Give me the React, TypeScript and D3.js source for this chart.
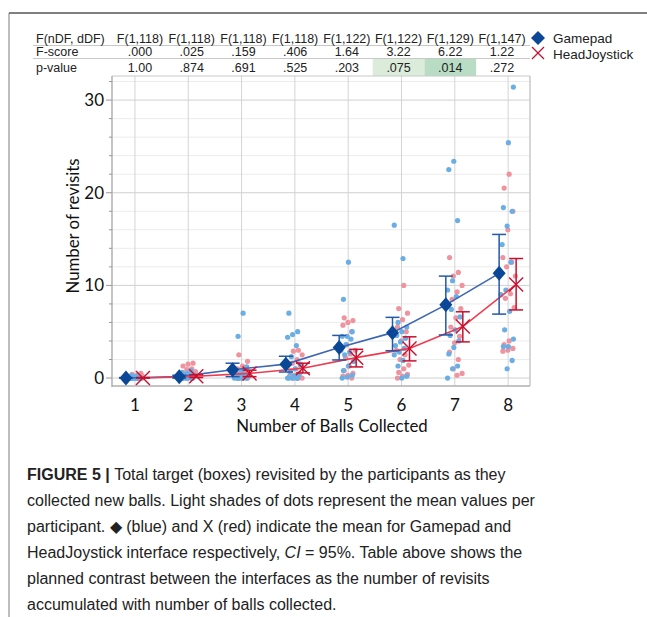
import React from "react";
import * as d3 from "d3";

const categories = [1, 2, 3, 4, 5, 6, 7, 8];
const dfLabels = ["F(1,118)", "F(1,118)", "F(1,118)", "F(1,118)", "F(1,122)", "F(1,122)", "F(1,129)", "F(1,147)"];
const fScores = [".000", ".025", ".159", ".406", "1.64", "3.22", "6.22", "1.22"];
const pValues = ["1.00", ".874", ".691", ".525", ".203", ".075", ".014", ".272"];
const yTicks = [0, 10, 20, 30];

const gamepadMean = [0.0, 0.15, 0.9, 1.5, 3.3, 4.9, 7.9, 11.3];
const gamepadLow = [0.0, 0.0, 0.15, 0.65, 1.95, 2.95, 4.65, 6.9];
const gamepadHigh = [0.05, 0.3, 1.6, 2.35, 4.6, 6.55, 11.0, 15.5];

const headMean = [0.0, 0.2, 0.5, 1.05, 2.2, 3.2, 5.55, 10.1];
const headLow = [0.0, 0.05, 0.15, 0.55, 1.2, 1.85, 3.9, 7.35];
const headHigh = [0.05, 0.35, 0.85, 1.6, 3.1, 4.45, 7.15, 12.9];

const gamepadDots = [
  [0, 0, 0, 0, 0, 0, 0, 0, 0, 0, 0, 0, 0.1, 0.1, 0.2, 0.3],
  [0, 0, 0, 0, 0, 0, 0.1, 0.1, 0.2, 0.2, 0.3, 0.3, 0.4, 0.5, 0.6, 0.8],
  [7.0, 4.5, 1.2, 0.8, 0.5, 0.4, 0.3, 0.2, 0.1, 0, 0, 0, 0, 0, 0, 0],
  [7.0, 5.0, 4.7, 4.4, 3.5, 2.3, 1.5, 1.0, 0.6, 0.3, 0.2, 0, 0, 0, 0, 0],
  [12.5, 8.5, 5.0, 4.5, 4.5, 4.2, 3.6, 3.0, 2.8, 2.5, 1.8, 1.3, 0.8, 0.3, 0.1, 0],
  [16.5, 12.9, 6.0, 5.5, 5.0, 4.6, 4.3, 3.9, 3.5, 3.2, 2.8, 2.5, 1.9, 1.3, 0.2, 0],
  [23.4, 22.5, 17.0, 10.5, 9.5, 8.8, 7.4, 6.6, 5.2, 4.6, 4.0, 3.3, 2.6, 1.3, 1.0, 0],
  [31.4, 25.4, 18.4, 18.0, 16.4, 14.4, 12.5, 9.5, 9.0, 7.2, 5.2, 4.2, 3.4, 3.4, 1.9, 1.0],
];

const headDots = [
  [0, 0, 0, 0, 0, 0, 0, 0, 0, 0, 0.1, 0.1, 0.2, 0.3, 0.4, 0.5],
  [1.6, 1.5, 1.3, 1.0, 0.9, 0.7, 0.5, 0.4, 0.3, 0.2, 0.1, 0, 0, 0, 0, 0],
  [2.5, 1.8, 1.3, 1.0, 0.8, 0.6, 0.5, 0.4, 0.3, 0.2, 0.1, 0, 0, 0, 0, 0],
  [3.0, 2.9, 2.5, 2.0, 1.6, 1.3, 1.0, 0.8, 0.5, 0.3, 0.2, 0, 0, 0, 0, 0],
  [6.5, 6.2, 6.0, 5.7, 5.0, 3.6, 3.0, 2.6, 2.2, 1.8, 1.3, 0.8, 0.5, 0.3, 0.2, 0],
  [10.0, 7.5, 7.0, 6.3, 5.5, 5.0, 4.0, 3.0, 2.5, 2.0, 1.4, 1.0, 0.6, 0.4, 0.2, 0],
  [13.0, 11.4, 11.0, 10.0, 9.3, 8.5, 7.5, 6.5, 5.5, 4.5, 3.8, 2.8, 2.0, 1.0, 0.5, 0.3],
  [22.0, 20.5, 18.0, 16.0, 13.0, 12.5, 12.0, 11.0, 9.1, 8.6, 7.6, 4.0, 3.6, 3.2, 3.0, 2.9],
];

const captionLines = [
  "Total target (boxes) revisited by the participants as they",
  "collected new balls. Light shades of dots represent the mean values per",
  "participant. \u25C6 (blue) and X (red) indicate the mean for Gamepad and",
  "HeadJoystick interface respectively, ",
  "planned contrast between the interfaces as the number of revisits",
  "accumulated with number of balls collected.",
];

const W = 647;
const H = 617;
const plotL = 112, plotR = 530, plotT = 76, plotB = 386;

const x = d3.scaleLinear().domain([0.57, 8.41]).range([plotL, plotR]);
const y = d3.scaleLinear().domain([-0.86, 32.6]).range([plotB, plotT]);
const col = d3.scaleLinear().domain([1, 8]).range([140, 502]);

const BLUE_DOT = "#6aaee3";
const PINK_DOT = "#ef939e";
const BLUE = "#0b4797";
const BLUE_LINE = "#3d66b5";
const RED = "#c8102e";
const RED_LINE = "#ec3c50";

function jit(i: number, c: number, s: number) {
  return (((i * 7 + c * 5 + s) % 11) - 5) * 1.25;
}

export default function App() {
  const gLine = d3.line<number>().x((_, i) => x(categories[i]) - 9).y((d) => y(d));
  const hLine = d3.line<number>().x((_, i) => x(categories[i]) + 8).y((d) => y(d));
  const minorTicks = d3.range(0, 33, 2).filter((v) => v % 10 !== 0);
  const colW = col(2) - col(1);
  const tableFont = "'Liberation Sans', Arial, sans-serif";
  const axisFont = "Lato, 'Open Sans', sans-serif";
  return (
    <svg width={W} height={H} style={{ position: "absolute", left: 0, top: 0, background: "#fff" }}>
      {/* frame */}
      <line x1={9} x2={9} y1={13} y2={H} stroke="#bdbdbd" strokeWidth={2} />
      <line x1={9} x2={W} y1={13} y2={13} stroke="#555" strokeWidth={1.5} />

      {/* table */}
      {pValues.map((p, i) => {
        const v = parseFloat(p);
        if (v >= 0.1) return null;
        return (
          <rect key={"h" + i} x={col(categories[i]) - colW / 2} y={58} width={colW} height={18}
            fill={v < 0.05 ? "#b9dcc5" : "#dcecdb"} />
        );
      })}
      <line x1={33} x2={plotR} y1={45.5} y2={45.5} stroke="#c8c8c8" />
      <line x1={33} x2={plotR} y1={58.5} y2={58.5} stroke="#c8c8c8" />
      <g fontFamily={tableFont} fontSize={12.5} fill="#222">
        <text x={36} y={43}>F(nDF, dDF)</text>
        <text x={36} y={56}>F-score</text>
        <text x={36} y={72}>p-value</text>
        {categories.map((c, i) => (
          <g key={"t" + c}>
            <text x={col(c)} y={43} textAnchor="middle">{dfLabels[i]}</text>
            <text x={col(c)} y={56} textAnchor="middle">{fScores[i]}</text>
            <text x={col(c)} y={72} textAnchor="middle">{pValues[i]}</text>
          </g>
        ))}
      </g>

      {/* legend */}
      <path d="M538,31 L545,38 L538,45 L531,38 Z" fill={BLUE} />
      <text x={553} y={42.5} fontFamily={tableFont} fontSize={13.5} fill="#222">Gamepad</text>
      <g stroke={RED} strokeWidth={1.3}>
        <line x1={532} x2={544} y1={47} y2={59} />
        <line x1={532} x2={544} y1={59} y2={47} />
      </g>
      <text x={553} y={58.5} fontFamily={tableFont} fontSize={13.5} fill="#222">HeadJoystick</text>

      {/* grid */}
      {minorTicks.map((t) => (
        <line key={"mg" + t} x1={plotL} x2={plotR} y1={y(t)} y2={y(t)} stroke="#ececec" strokeWidth={1} />
      ))}
      {yTicks.map((t) => (
        <line key={"g" + t} x1={plotL} x2={plotR} y1={y(t)} y2={y(t)} stroke="#d0d0d0" strokeWidth={1} />
      ))}
      {categories.map((c) => (
        <line key={"vg" + c} x1={x(c)} x2={x(c)} y1={plotT} y2={plotB} stroke="#d4d4d4" strokeWidth={1} />
      ))}
      <line x1={plotL} x2={plotR} y1={plotT} y2={plotT} stroke="#c8c8c8" />
      <line x1={plotR} x2={plotR} y1={plotT} y2={plotB} stroke="#c8c8c8" strokeWidth={1.5} />
      <line x1={plotL} x2={plotL} y1={plotT} y2={plotB + 1} stroke="#b0b0b0" strokeWidth={1.5} />
      <line x1={plotL} x2={plotR} y1={plotB} y2={plotB} stroke="#b0b0b0" strokeWidth={1.5} />

      {/* y ticks */}
      {minorTicks.map((t) => (
        <line key={"mt" + t} x1={plotL - 3} x2={plotL} y1={y(t)} y2={y(t)} stroke="#999" />
      ))}
      {yTicks.map((t) => (
        <g key={"yt" + t}>
          <line x1={plotL - 6} x2={plotL} y1={y(t)} y2={y(t)} stroke="#999" />
          <text x={plotL - 8} y={y(t)} dy="0.35em" textAnchor="end" fontFamily={axisFont} fontSize={17} fill="#111">{t}</text>
        </g>
      ))}
      {categories.map((c) => (
        <text key={"xt" + c} x={x(c)} y={411} textAnchor="middle" fontFamily={axisFont} fontSize={17} fill="#111">{c}</text>
      ))}
      <text x={332} y={432} textAnchor="middle" fontFamily={axisFont} fontSize={16.8} fill="#111">Number of Balls Collected</text>
      <text transform={`translate(79,226) rotate(-90)`} textAnchor="middle" fontFamily={axisFont} fontSize={16.8} fill="#111">Number of revisits</text>

      {/* dots */}
      {headDots.map((arr, ci) => arr.map((v, i) => (
        <circle key={`hd${ci}-${i}`} cx={x(categories[ci]) + 1 + jit(i, ci, 3)} cy={y(v)} r={2.6} fill={PINK_DOT} />
      )))}
      {gamepadDots.map((arr, ci) => arr.map((v, i) => (
        <circle key={`gd${ci}-${i}`} cx={x(categories[ci]) - 1 + jit(i, ci, 8)} cy={y(v)} r={2.6} fill={BLUE_DOT} />
      )))}

      {/* lines */}
      <path d={gLine(gamepadMean) || ""} fill="none" stroke={BLUE_LINE} strokeWidth={1.6} />
      <path d={hLine(headMean) || ""} fill="none" stroke={RED_LINE} strokeWidth={1.6} />

      {/* error bars */}
      {categories.map((c, i) => {
        const gx = x(c) - 9, hx = x(c) + 8;
        return (
          <g key={"eb" + c} strokeWidth={1.5}>
            <g stroke="#2558a8">
              <line x1={gx} x2={gx} y1={y(gamepadLow[i])} y2={y(gamepadHigh[i])} />
              <line x1={gx - 7} x2={gx + 7} y1={y(gamepadLow[i])} y2={y(gamepadLow[i])} />
              <line x1={gx - 7} x2={gx + 7} y1={y(gamepadHigh[i])} y2={y(gamepadHigh[i])} />
            </g>
            <g stroke={RED}>
              <line x1={hx} x2={hx} y1={y(headLow[i])} y2={y(headHigh[i])} />
              <line x1={hx - 7} x2={hx + 7} y1={y(headLow[i])} y2={y(headLow[i])} />
              <line x1={hx - 7} x2={hx + 7} y1={y(headHigh[i])} y2={y(headHigh[i])} />
            </g>
          </g>
        );
      })}

      {/* markers */}
      {categories.map((c, i) => {
        const gx = x(c) - 9, gy = y(gamepadMean[i]);
        const hx = x(c) + 8, hy = y(headMean[i]);
        return (
          <g key={"mk" + c}>
            <path d={`M${gx},${gy - 7.5} L${gx + 6.5},${gy} L${gx},${gy + 7.5} L${gx - 6.5},${gy} Z`} fill={BLUE} />
            <g stroke={RED} strokeWidth={1.4}>
              <line x1={hx - 7} x2={hx + 7} y1={hy - 7} y2={hy + 7} />
              <line x1={hx - 7} x2={hx + 7} y1={hy + 7} y2={hy - 7} />
            </g>
          </g>
        );
      })}

      {/* caption */}
      <g fontFamily={tableFont} fontSize={16} fill="#222">
        <text x={27} y={480}>
          <tspan fontWeight="bold">FIGURE 5 | </tspan>
          <tspan>{captionLines[0]}</tspan>
        </text>
        <text x={27} y={506}>{captionLines[1]}</text>
        <text x={27} y={532}>{captionLines[2]}</text>
        <text x={27} y={558}>
          {captionLines[3]}
          <tspan fontStyle="italic">CI</tspan>
          {" = 95%. Table above shows the"}
        </text>
        <text x={27} y={584}>{captionLines[4]}</text>
        <text x={27} y={610}>{captionLines[5]}</text>
      </g>
    </svg>
  );
}
